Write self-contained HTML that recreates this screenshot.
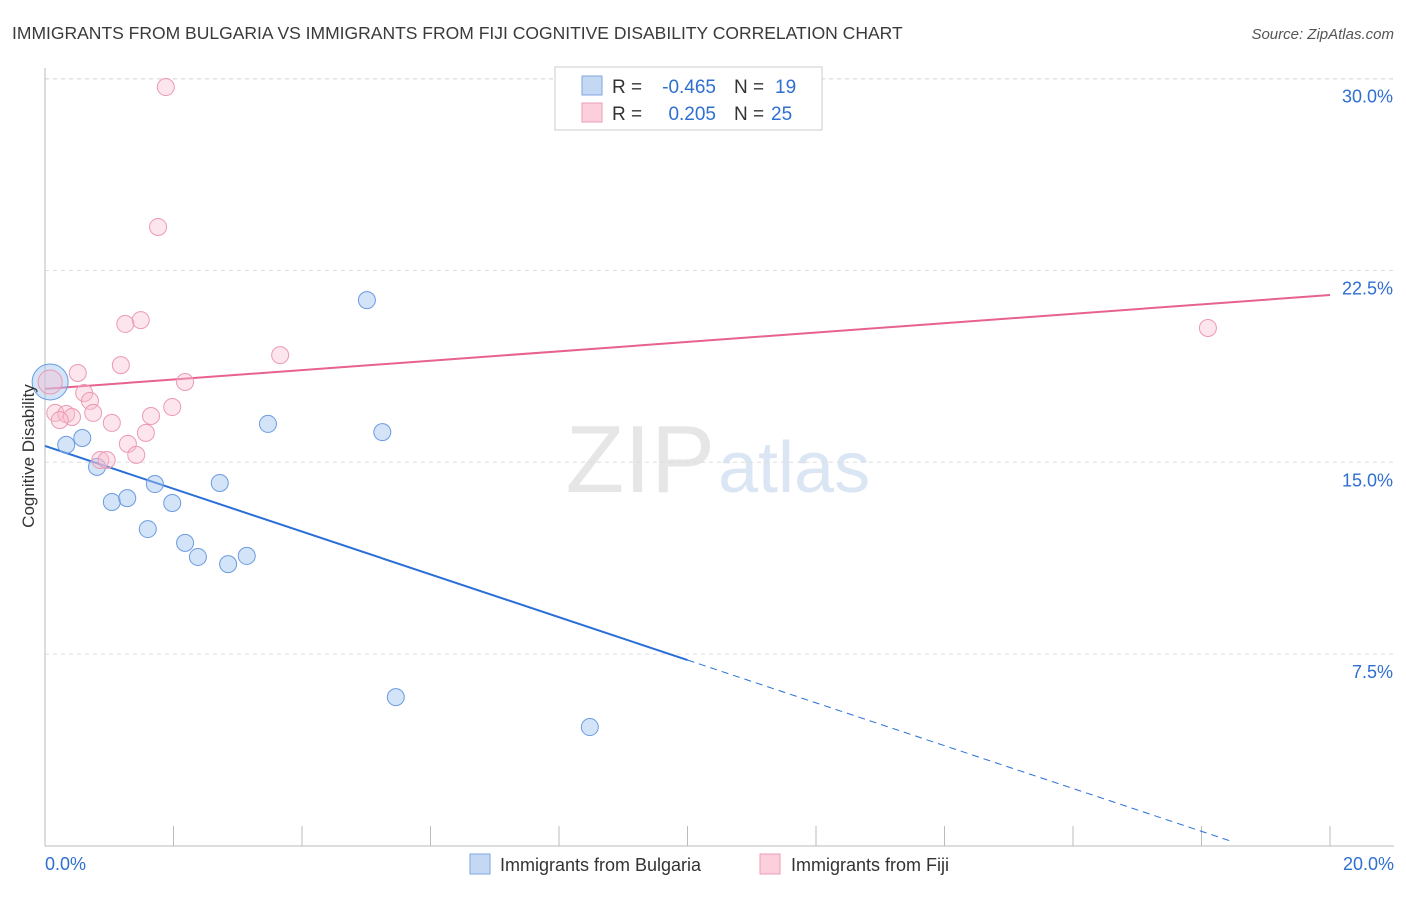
<!DOCTYPE html>
<html><head><meta charset="utf-8"><style>
body{margin:0;background:#fff;font-family:"Liberation Sans",sans-serif}
svg text{font-family:"Liberation Sans",sans-serif}
</style></head><body>
<svg width="1406" height="892" viewBox="0 0 1406 892" id="chart">
<text x="12" y="39" font-size="17.5" fill="#3a3a3a">IMMIGRANTS FROM BULGARIA VS IMMIGRANTS FROM FIJI COGNITIVE DISABILITY CORRELATION CHART</text>
<text x="1394" y="39" font-size="15" fill="#555" font-style="italic" text-anchor="end">Source: ZipAtlas.com</text>
<text x="715" y="492" font-size="96" fill="#e6e6e6" text-anchor="end" font-family="Liberation Serif">ZIP</text>
<text x="718" y="492" font-size="72" fill="#dbe6f4">atlas</text>
<g id="grid"></g><g id="axes"></g><g id="lines"></g><g id="pts"></g>
<text transform="translate(34,456) rotate(-90)" font-size="17" fill="#333" text-anchor="middle">Cognitive Disability</text>
<g>
<rect x="555" y="67" width="267" height="63" fill="#fff" stroke="#ccc"/>
<rect x="582" y="76" width="20" height="19" fill="#c5d8f3" stroke="#7ea5e0"/>
<rect x="582" y="103" width="20" height="19" fill="#fbd0dc" stroke="#ee9cb5"/>
<text x="612" y="93" font-size="19" fill="#333">R =</text>
<text x="716" y="93" font-size="19" fill="#2f6fd0" text-anchor="end">-0.465</text>
<text x="734" y="93" font-size="19" fill="#333">N =</text>
<text x="775" y="93" font-size="19" fill="#2f6fd0">19</text>
<text x="612" y="120" font-size="19" fill="#333">R =</text>
<text x="716" y="120" font-size="19" fill="#2f6fd0" text-anchor="end">0.205</text>
<text x="734" y="120" font-size="19" fill="#333">N =</text>
<text x="771" y="120" font-size="19" fill="#2f6fd0">25</text>
</g>
<g>
<rect x="470" y="854" width="20" height="20" fill="#c5d8f3" stroke="#7ea5e0"/>
<text x="500" y="871" font-size="18" fill="#333">Immigrants from Bulgaria</text>
<rect x="760" y="854" width="20" height="20" fill="#fbd0dc" stroke="#ee9cb5"/>
<text x="791" y="871" font-size="18" fill="#333">Immigrants from Fiji</text>
</g>
</svg>
<script>
const yTicks=[7.5,15,22.5,30];
const yTickLabels=["7.5%","15.0%","22.5%","30.0%"];
const xTickLabels=["0.0%","20.0%"];
const bulgariaX=[0.08,0.33,0.58,0.81,1.04,1.28,1.60,1.71,1.98,2.18,2.38,2.72,2.85,3.14,3.47,5.01,5.25,5.46,8.48];
const bulgariaY=[18.14,15.68,15.95,14.82,13.45,13.60,12.39,14.15,13.41,11.85,11.30,14.19,11.02,11.34,16.50,21.34,16.18,5.82,4.65];
const fijiX=[1.88,1.76,1.49,1.25,3.66,1.18,0.51,2.18,0.08,0.61,0.70,1.98,0.16,0.33,0.75,0.42,0.23,1.04,1.65,1.57,1.29,1.42,0.86,0.96,18.10];
const fijiY=[29.67,24.20,20.56,20.41,19.19,18.80,18.49,18.14,18.14,17.71,17.40,17.16,16.93,16.89,16.93,16.77,16.65,16.54,16.81,16.15,15.72,15.29,15.09,15.09,20.25];
const bulgariaTrend=[15.64,-0.837];
const fijiTrend=[17.87,0.1835];
const NS="http://www.w3.org/2000/svg";
const X=v=>45+v*64.25, Y=v=>846-v*25.58;
function mk(t,a,p){const e=document.createElementNS(NS,t);for(const k in a)e.setAttribute(k,a[k]);document.getElementById(p).appendChild(e);return e;}
yTicks.forEach((t,i)=>{
 const g=mk('line',{x1:45,x2:1394,y1:Y(t),y2:Y(t),stroke:'#ddd','stroke-dasharray':'4,4'},'grid');
 
 
 const l=mk('text',{x:1393,y:Y(t)+24,'font-size':18,fill:'#2f6fd0','text-anchor':'end'},'axes');l.textContent=yTickLabels[i];
 
 
});
const topGrid=mk('line',{x1:45,x2:1394,y1:79,y2:79,stroke:'#ddd','stroke-dasharray':'4,4'},'grid');


const ya=mk('line',{x1:45,x2:45,y1:68,y2:846,stroke:'#bbb'},'axes');


const xa=mk('line',{x1:45,x2:1394,y1:846,y2:846,stroke:'#bbb'},'axes');


for(let i=0;i<=10;i++){const t=mk('line',{x1:X(i*2),x2:X(i*2),y1:826,y2:846,stroke:'#bbb'},'axes');
 
 }
[[0,'start',45],[20,'end',1394]].forEach((d,i)=>{const l=mk('text',{x:d[2],y:870,'font-size':18,fill:'#2f6fd0','text-anchor':d[1]},'axes');l.textContent=xTickLabels[i];
 
 });
const by=x=>bulgariaTrend[0]+bulgariaTrend[1]*x, fy=x=>fijiTrend[0]+fijiTrend[1]*x;
let l1=mk('line',{x1:X(0),y1:Y(by(0)),x2:X(10),y2:Y(by(10)),stroke:'#2a6fd6','stroke-width':2},'lines');


const xe=18.44;
let l2=mk('line',{x1:X(10),y1:Y(by(10)),x2:X(xe),y2:Y(by(xe)),stroke:'#2a6fd6','stroke-width':1,'stroke-dasharray':'7,5'},'lines');


let l3=mk('line',{x1:X(0),y1:Y(fy(0)),x2:X(20),y2:Y(fy(20)),stroke:'#e8628e','stroke-width':2},'lines');


bulgariaX.forEach((x,i)=>{const c=mk('circle',{cx:X(x),cy:Y(bulgariaY[i]),r:i==0?18:8.5,fill:'rgba(160,195,240,0.45)',stroke:'#6b9be0','stroke-width':1},'pts');
 
 });
fijiX.forEach((x,i)=>{const c=mk('circle',{cx:X(x),cy:Y(fijiY[i]),r:i==8?12:8.5,fill:'rgba(248,190,208,0.4)',stroke:'#ec9ab3','stroke-width':1},'pts');
 
 });
</script>
</body></html>
